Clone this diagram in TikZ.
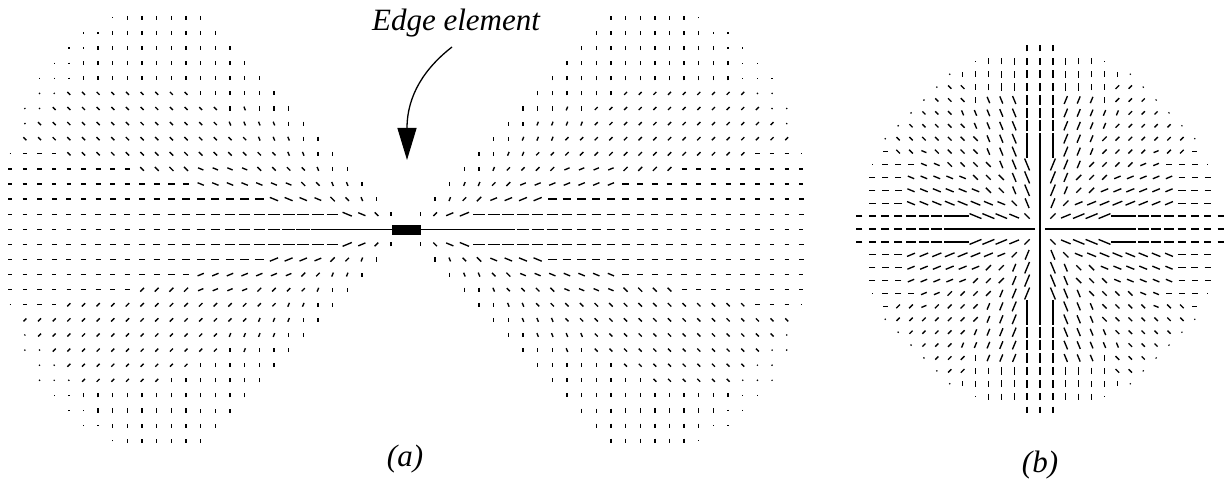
\documentclass[tikz,border=0pt]{standalone}
\usepackage{fontspec}
\setmainfont{Liberation Serif}
\usetikzlibrary{arrows.meta}
\begin{document}
\begin{tikzpicture}[x=1pt,y=1pt,
  tick/.style={line width=1.35pt, line cap=butt, black},
  lbl/.style={font=\itshape\fontsize{31}{36}\selectfont, inner sep=0pt, anchor=base},
  edgebox/.style={fill=black, draw=none, minimum width=29pt, minimum height=10pt, inner sep=0pt},
  pointer/.style={line width=1.3pt, -{Triangle[length=32pt,width=19pt]}}]
\useasboundingbox (0,0) rectangle (1225,480);
% ---------- panel (a): stick field ----------
\foreach \j in {-14,...,14}{
  \pgfmathtruncatemacro\aj{abs(\j)}
  \pgfmathtruncatemacro\maxc{{27,27,27,27,27,27,26,26,26,25,25,24,23,22,20}[\aj]}
  \pgfmathtruncatemacro\tickc{{27,27,27,27,27,26,26,25,24,23,22,22,21,20,19}[\aj]}
  \pgfmathtruncatemacro\minc{max(\aj,1)}
  \foreach \i in {\minc,...,\maxc}{
    \pgfmathsetmacro\ph{atan(\aj/\i)}
    \pgfmathsetmacro\rr{sqrt(\i*\i+\aj*\aj)}
    \pgfmathsetmacro\s{\rr*(\ph*pi/180+0.0001)/(sin(\ph)+0.0001)}
    \pgfmathsetmacro\al{2*\ph}
    \pgfmathsetmacro\q{(\s<=15) ? (\al<24 ? 0 : (\al<42 ? 22.5 : (\al<60 ? 45 : (\al<76 ? 67.5 : 90)))) : (\al<24 ? 0 : (\al<64 ? 45 : 90))}
    \ifnum\j>9 \def\q{90}\fi
    \ifnum\j<-10 \def\q{90}\fi
    \pgfmathsetmacro\L{4+13*exp(-(\s/14)^2)*exp(-(\ph/17)^2)}
    \ifnum\i>\tickc \def\L{1.2}\fi
    \foreach \sg in {-1,1}{
      \pgfmathsetmacro\ang{\q*((\sg*\j>0) ? 1 : -1)}
      \pgfmathsetmacro\px{405.8+\sg*\i*14.65}
      \pgfmathsetmacro\py{250.7+\j*15.1}
      \draw[tick] ({\px-0.5*\L*cos(\ang)},{\py-0.5*\L*sin(\ang)}) -- ++({\L*cos(\ang)},{\L*sin(\ang)});
    }
  }
}
\node[edgebox] (edge) at (406.5,250) {};
% ---------- panel (b): ball field ----------
\foreach \j in {-14,...,14}{
  \foreach \i in {-14,...,14}{
    \pgfmathtruncatemacro\rsq{\i*\i+\j*\j}
    \ifnum\rsq<198
      \pgfmathsetmacro\px{1040+\i*12.9}
      \pgfmathsetmacro\py{251+\j*12.9}
      \ifnum\rsq=0
        \draw[tick] (\px,{\py-6.6}) -- ++(0,13.2);
      \else
        \pgfmathsetmacro\rr{sqrt(\rsq)}
        \pgfmathsetmacro\psi{atan2(\j,\i)}
        \pgfmathsetmacro\dv{atan(min(abs(\i),abs(\j))/max(abs(\i),abs(\j)))}
        \pgfmathsetmacro\ang{(\rr>11) ? ((\dv<27.5) ? round(\psi/90)*90 : round(\psi/45)*45) : round(\psi/22.5)*22.5}
        \pgfmathsetmacro\cf{cos(2*\psi)^2}
        \pgfmathsetmacro\L{2.8+13.5*exp(-(\rr/11.8)^2)*(0.35+0.65*\cf)}
        \pgfmathsetmacro\rat{min(abs(\i),abs(\j))/max(abs(\i),abs(\j))}
        \pgfmathtruncatemacro\isdot{(\rr>13.44 && \rat>0.33) ? 1 : 0}
        \ifnum\isdot=1 \def\L{1.2}\fi
        \draw[tick] ({\px-0.5*\L*cos(\ang)},{\py-0.5*\L*sin(\ang)}) -- ++({\L*cos(\ang)},{\L*sin(\ang)});
      \fi
    \fi
  }
}
% ---------- labels and pointer ----------
\node[lbl] (edgelabel) at (456,449) {Edge element};
\node[lbl] (labela) at (405,14) {(a)};
\node[lbl] (labelb) at (1040,8) {(b)};
\coordinate (arrowstart) at (452,433);
\coordinate (arrowtip) at (407,320);
\draw[pointer] (arrowstart) .. controls (425,412) and (407,385) .. (arrowtip);
\end{tikzpicture}
\end{document}
